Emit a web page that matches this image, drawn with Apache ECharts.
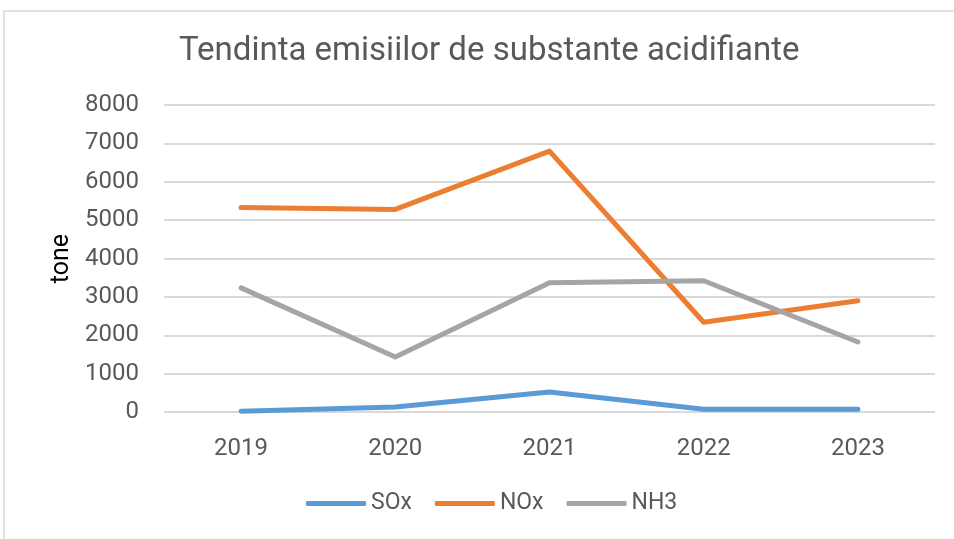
<!DOCTYPE html>
<html>
<head>
<meta charset="utf-8">
<script src="https://cdn.jsdelivr.net/npm/echarts@6/dist/echarts.min.js"></script>
<style>
  html, body { margin: 0; padding: 0; background: #fff; }
  #chart { width: 954px; height: 539px; }
</style>
</head>
<body>
<div id="chart"></div>
<script>
// date (tone)
const years = ['2019', '2020', '2021', '2022', '2023'];
const sox = [20, 130, 520, 70, 70];
const nox = [5330, 5280, 6800, 2340, 2900];
const nh3 = [3235, 1435, 3365, 3420, 1825];

const textColor = '#595959';
const font = 'Roboto';

let chart = echarts.init(document.getElementById('chart'));
chart.setOption({
    animation: false,
    backgroundColor: '#fff',
    title: {
        text: 'Tendinta emisiilor de substante acidifiante',
        left: 174,
        top: 30,
        textStyle: {
            color: textColor,
            fontFamily: font,
            fontSize: 33,
            fontWeight: 'normal'
        }
    },
    // chenarul graficului
    graphic: [{
        type: 'rect',
        shape: { x: 4, y: 11, width: 960, height: 540 },
        style: { fill: 'none', stroke: '#d9d9d9', lineWidth: 1.5 },
        silent: true
    }],
    legend: {
        left: 301,
        top: 487,
        icon: 'roundRect',
        itemWidth: 60,
        itemHeight: 5,
        itemGap: 23,
        textStyle: { color: textColor, fontFamily: font, fontSize: 23 },
        data: ['SOx', 'NOx', 'NH3']
    },
    grid: {
        left: 164,
        right: 19,
        top: 105,
        bottom: 127
    },
    xAxis: {
        type: 'category',
        data: years,
        axisLine: { show: false },
        axisTick: { show: false },
        axisLabel: { color: textColor, fontFamily: font, fontSize: 24, margin: 25 }
    },
    yAxis: {
        type: 'value',
        min: 0,
        max: 8000,
        interval: 1000,
        name: 'tone',
        nameLocation: 'middle',
        nameGap: 88,
        nameTextStyle: { color: '#000', fontFamily: font, fontSize: 25 },
        axisLabel: {
            color: textColor,
            fontFamily: font,
            fontSize: 24,
            margin: 25,
            formatter: function (v) { return String(v); }
        },
        splitLine: { lineStyle: { color: '#d9d9d9', width: 2 } }
    },
    series: [
        {
            name: 'SOx',
            type: 'line',
            data: sox,
            symbol: 'none',
            color: '#5b9bd5',
            lineStyle: { width: 5, cap: 'round', join: 'round' }
        },
        {
            name: 'NOx',
            type: 'line',
            data: nox,
            symbol: 'none',
            color: '#ed7d31',
            lineStyle: { width: 5, cap: 'round', join: 'round' }
        },
        {
            name: 'NH3',
            type: 'line',
            data: nh3,
            symbol: 'none',
            color: '#a5a5a5',
            lineStyle: { width: 5, cap: 'round', join: 'round' }
        }
    ]
});
</script>
</body>
</html>
